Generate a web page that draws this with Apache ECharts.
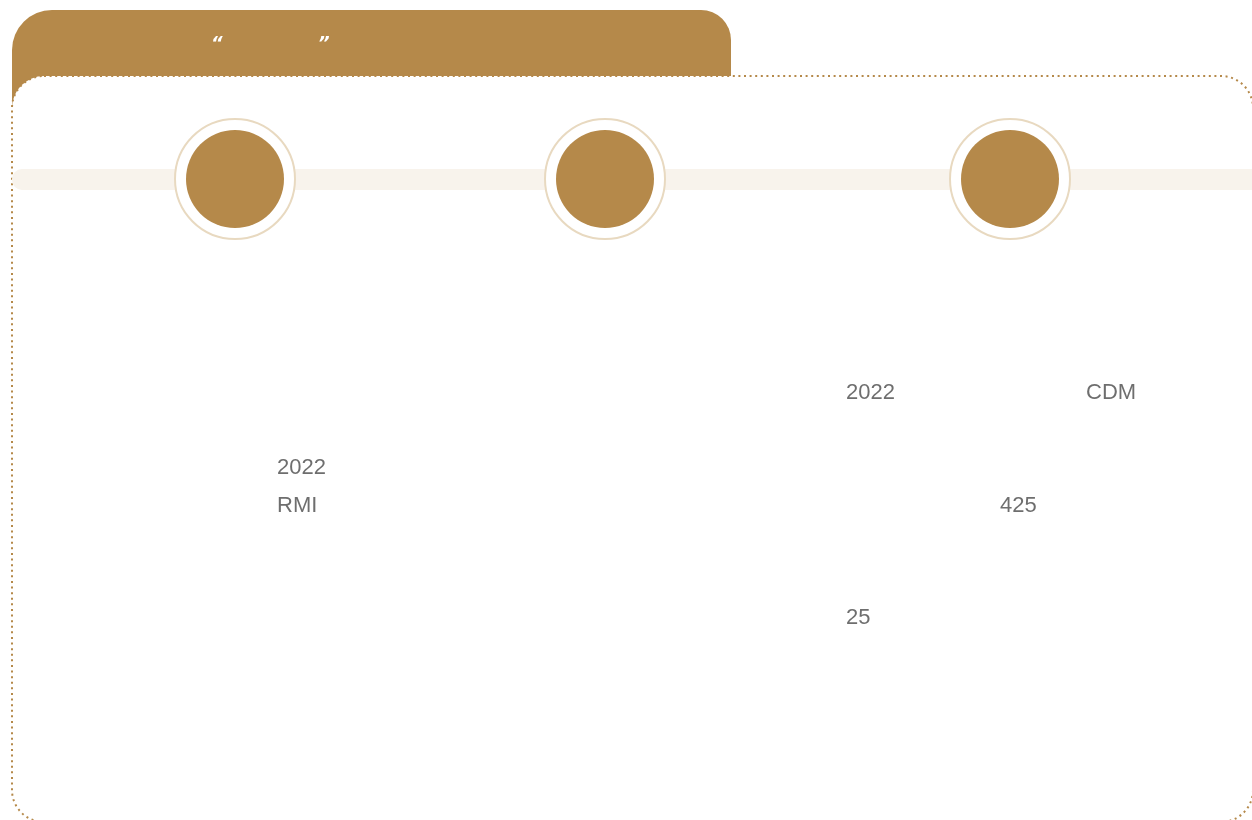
<!DOCTYPE html>
<html>
<head>
<meta charset="utf-8">
<script src="https://cdn.jsdelivr.net/npm/echarts@6/dist/echarts.min.js"></script>
<style>
  html, body { margin: 0; padding: 0; background: #fff; }
  #timeline { width: 1252px; height: 820px; }
</style>
</head>
<body>
<div id="timeline"></div>
<script>
// timeline nodes (page coordinates)
const nodeX = [235, 605, 1010];
const nodeY = [179, 179, 179];

// text fragments visible on the slide
const textLabels = ['2022', 'RMI', '2022', 'CDM', '425', '25'];
const textX = [277, 277, 846, 1086, 1000, 846];
const textY = [468, 506, 393, 393, 506, 618];

const brown = '#B5894A';

const nodes = nodeX.map((x, i) => [x, nodeY[i]]);
const texts = textLabels.map((t, i) => ({ name: t, value: [textX[i], textY[i]] }));

const myChart = echarts.init(document.getElementById('timeline'));
const option = {
  animation: false,
  grid: { left: 0, right: 0, top: 0, bottom: 0 },
  xAxis: { type: 'value', min: 0, max: 1252, show: false },
  yAxis: { type: 'value', min: 0, max: 820, inverse: true, show: false },
  graphic: {
    elements: [
      // title tab
      {
        type: 'rect', z: 1,
        shape: { x: 12, y: 10, width: 719, height: 110, r: [40, 30, 0, 0] },
        style: { fill: brown }
      },
      {
        type: 'text', z: 2, x: 211, y: 35,
        style: { text: '\u201C', fill: '#fff', font: 'italic bold 18px "DejaVu Sans"' }
      },
      {
        type: 'text', z: 2, x: 318, y: 35,
        style: { text: '\u201D', fill: '#fff', font: 'italic bold 18px "DejaVu Sans"' }
      },
      // card with dotted border
      {
        type: 'rect', z: 3,
        shape: { x: 12, y: 76, width: 1241, height: 746, r: 32 },
        style: { fill: '#fff', stroke: brown, lineWidth: 2, lineDash: [2, 3.6] }
      },
      // timeline bar
      {
        type: 'rect', z: 4,
        shape: { x: 12, y: 169, width: 1250, height: 21, r: 10 },
        style: { fill: '#F8F3EC' }
      }
    ]
  },
  series: [
    {
      type: 'scatter', z: 10,
      data: nodes,
      symbol: 'circle',
      symbolSize: 120,
      itemStyle: { color: '#fff', borderColor: '#E8D9C0', borderWidth: 2, opacity: 1 },
      silent: true
    },
    {
      type: 'scatter', z: 11,
      data: nodes,
      symbol: 'circle',
      symbolSize: 98,
      itemStyle: { color: brown, opacity: 1 },
      silent: true
    },
    {
      type: 'scatter', z: 12,
      data: texts,
      symbolSize: 0,
      silent: true,
      label: {
        show: true,
        position: 'right',
        distance: 0,
        formatter: '{b}',
        color: '#4a4a4a',
        fontSize: 22,
        fontFamily: 'Liberation Sans'
      }
    }
  ]
};
myChart.setOption(option, true);
</script>
</body>
</html>
